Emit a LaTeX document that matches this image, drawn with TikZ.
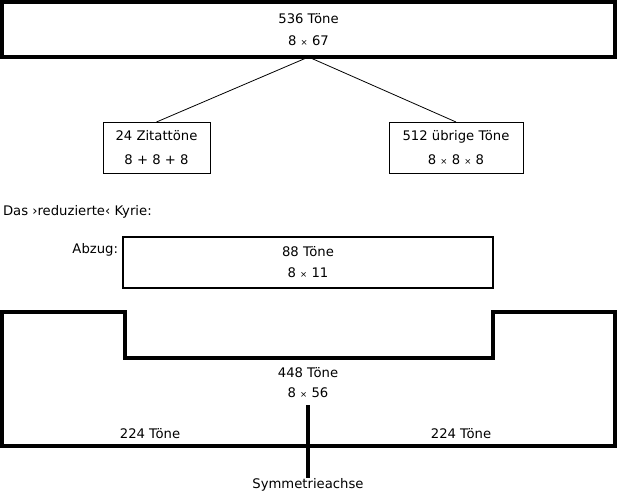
\documentclass[tikz,border=0pt]{standalone}
\usepackage{fontspec}
\setmainfont{DejaVu Sans}
\newcommand\kreuz{{\fontsize{8.5}{8.5}\selectfont ×}}
\begin{document}
\begin{tikzpicture}[x=1pt,y=-1pt,
  every node/.style={font=\fontsize{13.2}{15}\selectfont, inner sep=0pt, outer sep=0pt},
  bigbox/.style={draw, line width=3.2pt, align=center},
  smallbox/.style={draw, line width=0.9pt, align=center},
  midbox/.style={draw, line width=2.2pt, align=center},
  conn/.style={line width=0.8pt},
  thickline/.style={line width=3.2pt}]
\useasboundingbox (0,0) rectangle (618,493);
\node[bigbox, minimum width=613pt, minimum height=55pt] (top) at (308.5,29.5) {536 Töne\\[7pt]8 \kreuz\ 67};
\node[smallbox, minimum width=107pt, minimum height=51pt] (left) at (156.5,147.5) {24 Zitattöne\\[9pt]8 + 8 + 8};
\node[smallbox, minimum width=134pt, minimum height=51pt] (right) at (456,147.5) {512 übrige Töne\\[9pt]8 \kreuz\ 8 \kreuz\ 8};
\draw[conn] (top.south) -- (left.north);
\draw[conn] (top.south) -- (right.north);
\node[anchor=west] (title) at (3,212) {Das ›reduzierte‹ Kyrie:};
\node[anchor=east] (abzuglabel) at (118,250) {Abzug:};
\node[midbox, minimum width=370pt, minimum height=51pt] (abzug) at (308,262.5) {88 Töne\\[6pt]8 \kreuz\ 11};
\draw[thickline, line join=miter] (2,312) -- (125,312) -- (125,358) -- (493,358) -- (493,312) -- (615,312) -- (615,446) -- (2,446) -- cycle;
\node[align=center] (rest) at (308,383) {448 Töne\\[5pt]8 \kreuz\ 56};
\node (halfL) at (150,434) {224 Töne};
\node (halfR) at (461,434) {224 Töne};
\coordinate (axtop) at (308,405);
\node[anchor=north] (axis) at (308,478) {Symmetrieachse};
\draw[thickline] (axtop) -- (axis.north);
\end{tikzpicture}
\end{document}
